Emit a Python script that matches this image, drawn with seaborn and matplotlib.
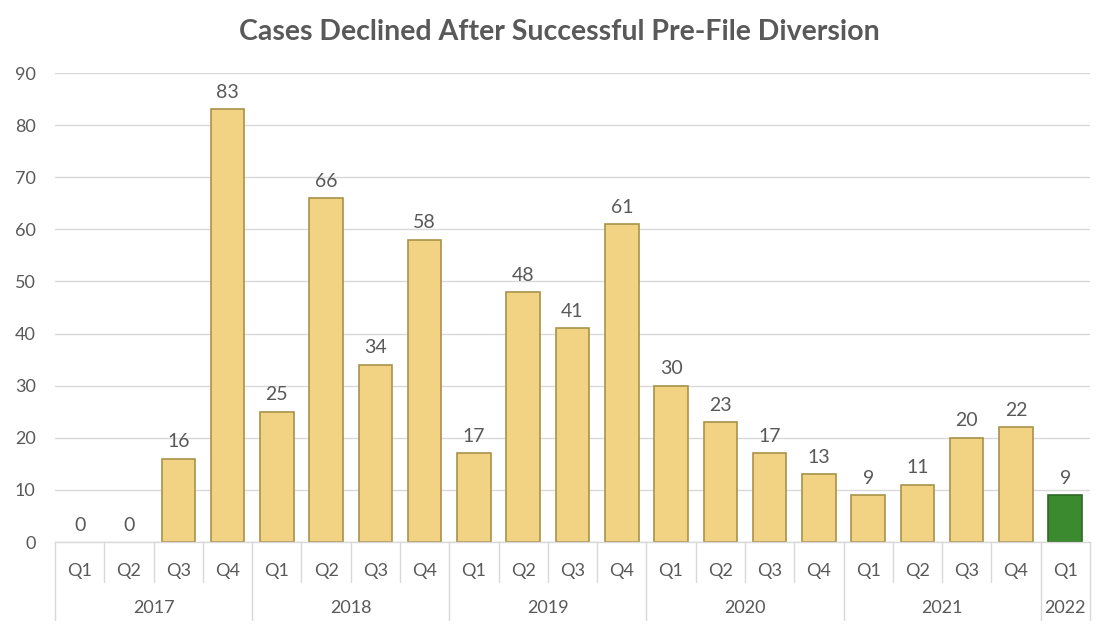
import pandas as pd
import numpy as np
import matplotlib
matplotlib.use("Agg")
import matplotlib.pyplot as plt
import matplotlib.transforms as mtransforms
import seaborn as sns

# data
years = ["2017", "2018", "2019", "2020", "2021", "2022"]
quarters_per_year = [4, 4, 4, 4, 4, 1]
quarter_labels = ["Q1", "Q2", "Q3", "Q4"] * 5 + ["Q1"]
cases = [0, 0, 16, 83, 25, 66, 34, 58, 17, 48, 41, 61, 30, 23, 17, 13, 9, 11, 20, 22, 9]

sns.set_theme(style="white")
plt.rcParams['font.family'] = ['Lato', 'DejaVu Sans']

text_col = "#595959"
gold = "#F2D384"
gold_edge = "#A8924A"
green = "#3B8A2F"
green_edge = "#2C6A23"
line_col = "#D9D9D9"

df = pd.DataFrame({
    "pos": [str(i) for i in range(len(cases))],
    "cases": cases,
})
colors = [gold] * (len(cases) - 1) + [green]
edges = [gold_edge] * (len(cases) - 1) + [green_edge]

fig = plt.figure(figsize=(11.02, 6.24), dpi=100)
ax = fig.add_axes([0.050, 0.1314, 0.939, 0.7516])

sns.barplot(data=df, x="pos", y="cases", hue="pos", palette=colors,
            legend=False, width=0.68, ax=ax, saturation=1)
for patch, ec, v in zip(ax.patches, edges, cases):
    patch.set_edgecolor(ec)
    patch.set_linewidth(1.2 if v > 0 else 0)

for i, v in enumerate(cases):
    ax.text(i, v + 1.6, str(v), ha="center", va="bottom", fontsize=14, color=text_col)

ax.set_ylim(0, 90)
ax.set_xlim(-0.5, len(cases) - 0.5)
ax.set_yticks(range(0, 91, 10))
ax.yaxis.grid(True, color=line_col, linewidth=1)
ax.set_axisbelow(True)
ax.tick_params(axis="y", labelsize=13, labelcolor=text_col, length=0, pad=14)
ax.set_xticks([])
ax.set_xlabel("")
ax.set_ylabel("")
for s in ["left", "right", "top"]:
    ax.spines[s].set_visible(False)
ax.spines["bottom"].set_color(line_col)
ax.spines["bottom"].set_linewidth(1)

# two-level category axis
trans = mtransforms.blended_transform_factory(ax.transData, ax.transAxes)
for i, q in enumerate(quarter_labels):
    ax.text(i, -0.062, q, transform=trans, ha="center", va="center",
            fontsize=13, color=text_col)

year_bounds = np.concatenate([[0], np.cumsum(quarters_per_year)]) - 0.5
for b in np.arange(-0.5, len(cases), 1.0):
    is_year = np.any(np.isclose(year_bounds, b))
    ax.plot([b, b], [0, -0.166 if is_year else -0.085], transform=trans,
            color=line_col, linewidth=1, clip_on=False)
for y, lo, hi in zip(years, year_bounds[:-1], year_bounds[1:]):
    ax.text((lo + hi) / 2, -0.14, y, transform=trans, ha="center", va="center",
            fontsize=13, color=text_col)

fig.suptitle("Cases Declined After Successful Pre-File Diversion", x=0.508, y=0.97,
             fontsize=20.5, fontweight="bold", color=text_col)

fig.savefig("out.png", dpi=100)
